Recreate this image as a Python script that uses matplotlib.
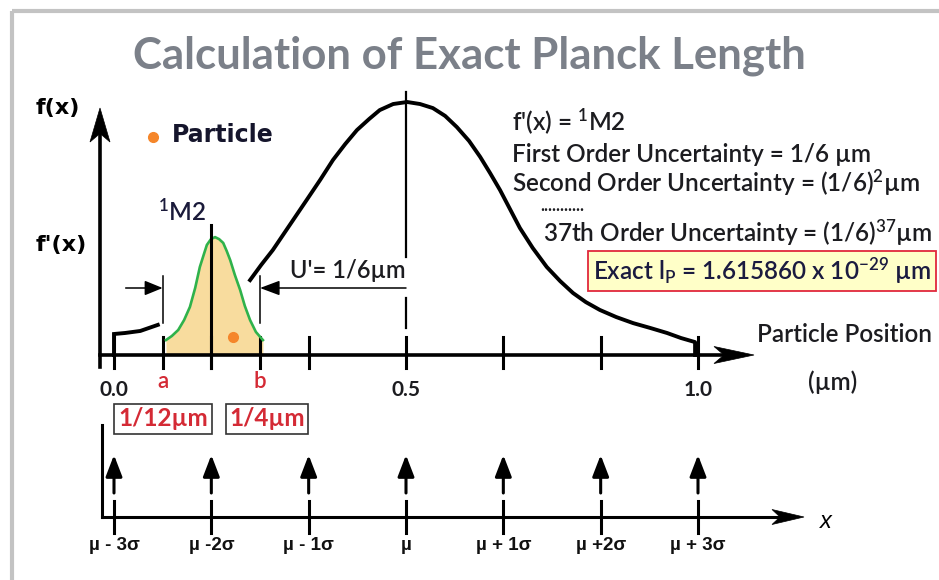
import numpy as np
import matplotlib.pyplot as plt
import matplotlib.transforms as mtransforms
from matplotlib.patches import Polygon, FancyArrowPatch

plt.rcParams['mathtext.default'] = 'regular'

# curve: x in um, height relative to the peak
big_x = [0.233, 0.252, 0.272, 0.301, 0.330, 0.353, 0.375, 0.396, 0.416, 0.437,
         0.455, 0.478, 0.502, 0.524, 0.546, 0.567, 0.587, 0.608, 0.627, 0.644,
         0.661, 0.678, 0.695, 0.717, 0.741, 0.764, 0.786, 0.808, 0.832, 0.860,
         0.889, 0.918, 0.947, 0.971, 0.995, 0.995]
big_h = [0.296, 0.356, 0.415, 0.514, 0.613, 0.692, 0.771, 0.834, 0.889, 0.933,
         0.968, 0.992, 1.000, 0.992, 0.976, 0.945, 0.901, 0.846, 0.783, 0.719,
         0.652, 0.577, 0.502, 0.423, 0.348, 0.292, 0.245, 0.209, 0.178, 0.150,
         0.126, 0.107, 0.087, 0.067, 0.051, 0.0]
tail_x = [0.0, 0.0, 0.019, 0.045, 0.075]
tail_h = [0.0, 0.083, 0.087, 0.095, 0.119]

small_x = [0.089, 0.099, 0.110, 0.120, 0.130, 0.139, 0.147, 0.154, 0.159, 0.166,
           0.173, 0.180, 0.187, 0.193, 0.199, 0.207, 0.216, 0.224, 0.233, 0.243,
           0.255]
small_h = [0.059, 0.075, 0.099, 0.138, 0.190, 0.265, 0.348, 0.399, 0.435, 0.458,
           0.466, 0.458, 0.443, 0.411, 0.375, 0.316, 0.257, 0.194, 0.138, 0.091,
           0.059]
particle_x = 0.204

tick_pos = [0, 1/12, 1/6, 1/4, 1/3, 1/2, 2/3, 5/6, 1]
num_pos = [0.0, 0.5, 1.0]
num_labels = ['0.0', '0.5', '1.0']
a_pos, b_pos, mu_small = 1/12, 1/4, 1/6
sigma_pos = [0, 1/6, 1/3, 1/2, 2/3, 5/6, 1]
sigma_labels = ['µ - 3σ', 'µ -2σ', 'µ - 1σ', 'µ', 'µ + 1σ', 'µ +2σ', 'µ + 3σ']

W, H = 939, 580
fig = plt.figure(figsize=(W / 100, H / 100), dpi=100)
ax = fig.add_axes([0, 0, 1, 1])
x0_px, um_px = 114, 584
base_px, unit_px = 355, 253
ax.set_xlim(-x0_px / um_px, (W - x0_px) / um_px)
ax.set_ylim((base_px - H) / unit_px, base_px / unit_px)
ax.axis('off')

# pixel frame (origin top-left) and a blend: x from data, y in pixels
P = mtransforms.Affine2D().scale(1 / W, -1 / H).translate(0, 1) + fig.transFigure
XP = mtransforms.blended_transform_factory(ax.transData, P)

TXT = ['Lato', 'DejaVu Sans']
dark = '#1c1c20'
red = '#d42a35'


def head(tip, d, length, width, notch=0.25):
    tx, ty = tip
    dx, dy = d
    nx, ny = -dy, dx
    bx, by = tx - dx * length, ty - dy * length
    pts = [(tx, ty), (bx + nx * width / 2, by + ny * width / 2),
           (tx - dx * length * (1 - notch), ty - dy * length * (1 - notch)),
           (bx - nx * width / 2, by - ny * width / 2)]
    ax.add_patch(Polygon(pts, closed=True, fc='black', ec='black', lw=0.5, transform=P))


def arrow(x1, y1, x2, y2, hl, hw, lw):
    ax.add_patch(FancyArrowPatch((x1, y1), (x2, y2), transform=XP,
                                 arrowstyle=f'-|>,head_length={hl},head_width={hw}',
                                 mutation_scale=1, shrinkA=0, shrinkB=0,
                                 color='black', lw=lw))


# frame
ax.plot([12, W], [11, 11], color='#c3c3c3', lw=3, transform=P, solid_capstyle='butt')
ax.plot([12, 12], [11, H], color='#c3c3c3', lw=3, transform=P, solid_capstyle='butt')

ax.text(469, 56, 'Calculation of Exact Planck Length', transform=P, ha='center',
        va='center', fontsize=31.5, fontweight='bold', color='#7b8089', family='Lato')

# main axes
ax.plot([100, 100], [367, 130], color='black', lw=2.6, transform=P)
head((100, 108), (0, -1), 34, 20)
ax.plot([100, 730], [355, 355], color='black', lw=2.6, transform=P)
head((754, 355), (1, 0), 40, 17)
for t in tick_pos:
    ax.plot([t, t], [337, 368], color='black', lw=2.2, transform=XP)

# curves
ax.fill_between(small_x, 0, small_h, color='#f8dc9e', lw=0)
ax.plot(small_x, small_h, color='#2fb24b', lw=1.9)
ax.plot(big_x, big_h, color='black', lw=2.8, solid_joinstyle='round')
ax.plot(tail_x, tail_h, color='black', lw=2.8, solid_joinstyle='miter')
ax.plot([mu_small, mu_small], [225, 368], color='black', lw=2.2, transform=XP)
ax.plot([0.5, 0.5], [92, 257], color='black', lw=1.6, transform=XP)
ax.plot([0.5, 0.5], [298, 328], color='black', lw=1.6, transform=XP)
ax.plot([particle_x], [337], 'o', color='#f5862a', ms=7, transform=XP)

# uncertainty width U'
ax.plot([a_pos, a_pos], [276, 323], color='black', lw=1.1, transform=XP)
ax.plot([b_pos, b_pos], [276, 323], color='black', lw=1.1, transform=XP)
arrow(0.02, 288, a_pos, 288, 11, 4.5, 1.1)
arrow(0.5, 288, b_pos, 288, 12, 4.5, 1.1)
ax.text(290, 271, "U'= 1/6µm", transform=P, ha='left', va='center',
        fontsize=17, fontweight='semibold', color=dark, family=TXT)

# left labels
ax.text(58, 108, 'f(x)', transform=P, ha='center', va='center', fontsize=16,
        fontweight='bold', family='DejaVu Sans')
ax.text(61, 245, "f'(x)", transform=P, ha='center', va='center', fontsize=16,
        fontweight='bold', family='DejaVu Sans')
ax.plot([153], [137], 'o', color='#f5862a', ms=7, transform=P)
ax.text(172, 135, 'Particle', transform=P, ha='left', va='center', fontsize=17,
        fontweight='bold', color='#15152c', family='DejaVu Sans')
ax.text(182, 211, '$^{1}$M2', transform=P, ha='center', va='center', fontsize=17.5,
        fontweight='semibold', color='#1a1a3a', family=TXT)

# right text block
right_lines = [(512, 122, "f'(x) = $^{1}$M2"),
               (512, 155, 'First Order Uncertainty = 1/6 µm'),
               (512, 183, 'Second Order Uncertainty = (1/6)$^{2}$µm'),
               (543, 233, '37th Order Uncertainty = (1/6)$^{37}$µm')]
for x, y, s in right_lines:
    ax.text(x, y, s, transform=P, ha='left', va='center', fontsize=17.5,
            fontweight='semibold', color=dark, family=TXT)
ax.text(540, 206, '...........', transform=P, ha='left', va='center', fontsize=12,
        fontweight='bold', color=dark, family=TXT)
ax.text(762, 271, 'Exact l$_{P}$ = 1.615860 x 10$^{-29}$ µm', transform=P,
        ha='center', va='center', fontsize=17.5, fontweight='semibold',
        color='#1b1b40', family=TXT,
        bbox=dict(boxstyle='square,pad=0.2', fc='#ffffc8', ec='#e0283c', lw=1.3))

ax.text(757, 335, 'Particle Position', transform=P, ha='left', va='center',
        fontsize=17.5, fontweight='semibold', color=dark, family=TXT)
ax.text(833, 382, '(µm)', transform=P, ha='center', va='center', fontsize=17.5,
        fontweight='semibold', color=dark, family=TXT)

for x, s in zip(num_pos, num_labels):
    ax.text(x, 390, s, transform=XP, ha='center', va='center', fontsize=15,
            fontweight='bold', color=dark, family=TXT)
ax.text(a_pos, 381, 'a', transform=XP, ha='center', va='center', fontsize=16,
        fontweight='semibold', color=red, family=TXT)
ax.text(b_pos, 381, 'b', transform=XP, ha='center', va='center', fontsize=16,
        fontweight='semibold', color=red, family=TXT)
for x, s in [(163, '1/12µm'), (267, '1/4µm')]:
    ax.text(x, 419, s, transform=P, ha='center', va='center', fontsize=17.5,
            fontweight='bold', color=red, family=TXT,
            bbox=dict(boxstyle='square,pad=0.15', fc='white', ec='#333333', lw=1.2))

# lower sigma axis
ax.plot([102, 102], [425, 517], color='black', lw=2.2, transform=P)
ax.plot([102, 780], [517, 517], color='black', lw=2.2, transform=P)
head((804, 517), (1, 0), 32, 15)
ax.text(826, 521, 'x', transform=P, ha='center', va='center', fontsize=17,
        style='italic', family='Liberation Sans')
for x, s in zip(sigma_pos, sigma_labels):
    ax.plot([x, x], [501, 533], color='black', lw=2.2, transform=XP)
    arrow(x, 493, x, 455, 13, 5, 2.2)
    ax.text(x, 545, s, transform=XP, ha='center', va='center', fontsize=13.5,
            fontweight='bold', color='#111111', family='Liberation Sans')

fig.savefig('out.png', dpi=100)
